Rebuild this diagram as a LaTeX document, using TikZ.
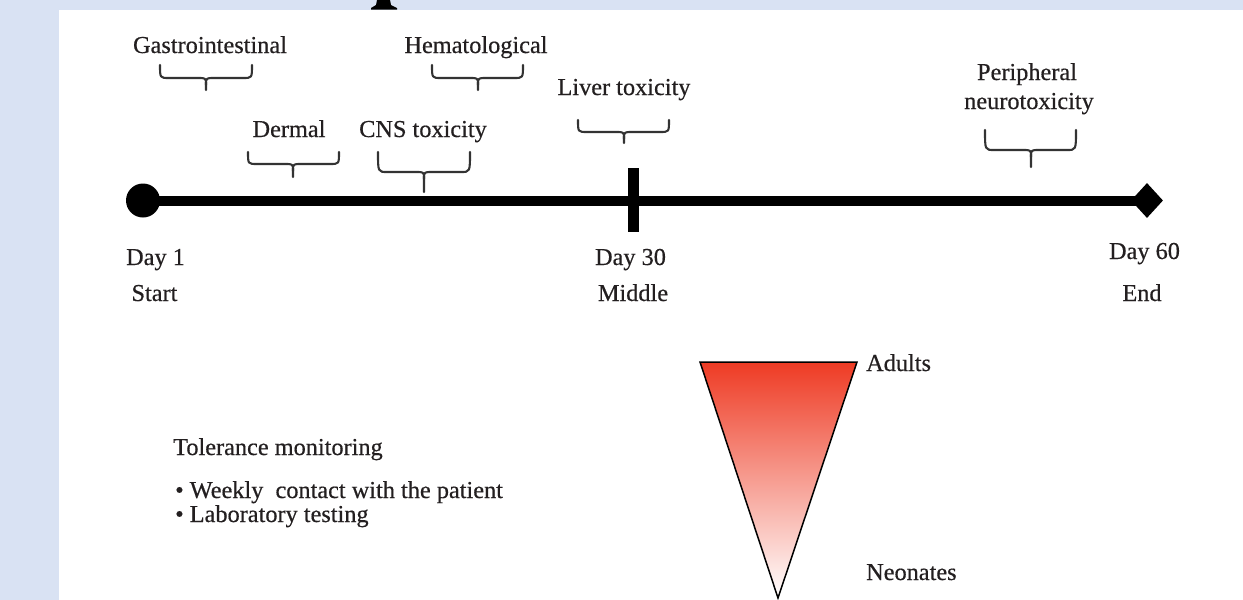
\documentclass[tikz,border=0pt]{standalone}
\usepackage{fontspec}
\setmainfont[FakeBold=0.5]{Liberation Serif}
\usetikzlibrary{shapes.geometric}
\definecolor{bgblue}{HTML}{D9E2F3}
\definecolor{txt}{HTML}{231F20}
\definecolor{tri}{HTML}{EE3B24}
\definecolor{bracec}{HTML}{333333}
\tikzset{
  lbl/.style={inner sep=0pt, anchor=base, text=txt, font=\fontsize{24.3}{29}\selectfont},
  lblw/.style={lbl, anchor=base west},
  bracestyle/.style={draw=bracec, line width=2.1pt, line cap=round, line join=round},
}
\newcommand{\mybrace}[6]{% L R T H P C
  \draw[bracestyle] (#1,#3) .. controls (#1,#4) .. ({#1+9},#4) -- ({#6-8},#4) .. controls (#6,#4) .. (#6,{#4+7}) -- (#6,#5);
  \draw[bracestyle] (#2,#3) .. controls (#2,#4) .. ({#2-9},#4) -- ({#6+8},#4) .. controls (#6,#4) .. (#6,{#4+7});
}
\begin{document}
\begin{tikzpicture}[x=1pt,y=-1pt]
\fill[bgblue] (0,0) rectangle (1243,600);
\useasboundingbox (0,0) rectangle (1243,600);
\fill[white] (59,10) rectangle (1243,600);
% cut-off glyph at the top
\fill[black] (377,0) -- (390,0) -- (391,5) -- (397,8) -- (397,9.6) -- (371,9.6) -- (371,8) -- (376,5) -- cycle;

% timeline
\node[circle, fill=black, minimum size=34pt, inner sep=0pt] (start) at (143,200.5) {};
\node[diamond, fill=black, minimum width=32pt, minimum height=35pt, inner sep=0pt] (end) at (1147,200.5) {};
\draw[line width=10pt] (start.center) -- (end.center);
\node[rectangle, fill=black, minimum width=11pt, minimum height=64pt, inner sep=0pt] (mid) at (633.5,200) {};

% braces
\mybrace{160}{252}{65}{78}{90}{206}
\mybrace{432}{523}{65}{78}{90}{478}
\mybrace{248}{339}{152}{164}{177}{293}
\mybrace{378}{470}{152}{172}{192}{424}
\mybrace{578}{669}{120}{132}{143}{624}
\mybrace{985}{1076}{130}{150}{167}{1031}

% labels
\node[lbl] (gi) at (210,53) {Gastrointestinal};
\node[lbl] (hem) at (476,53) {Hematological};
\node[lbl] (derm) at (289,137) {Dermal};
\node[lbl] (cns) at (423,137) {CNS toxicity};
\node[lbl] (liver) at (624,95) {Liver toxicity};
\node[lbl] (per1) at (1027,80) {Peripheral};
\node[lbl] (per2) at (1029,109) {neurotoxicity};

\node[lbl] (day1) at (155.5,265) {Day 1};
\node[lbl] (startl) at (154.5,301) {Start};
\node[lbl] (day30) at (630.5,265) {Day 30};
\node[lbl] (middle) at (633,301) {Middle};
\node[lbl] (day60) at (1144.5,259) {Day 60};
\node[lbl] (endl) at (1142,301) {End};

% tolerance
\node[lblw] (tol) at (173,455) {Tolerance monitoring};
\node[lblw] (b1) at (175,498) {• Weekly~ contact with the patient};
\node[lblw] (b2) at (175,522) {• Laboratory testing};

% triangle
\path[draw=black, line width=1.5pt, line join=miter, top color=tri, bottom color=white]
  (700,362) -- (857,362) -- (778,598) -- cycle;
\node[lblw] (adults) at (866,371) {Adults};
\node[lblw] (neo) at (866,580) {Neonates};
\end{tikzpicture}
\end{document}
